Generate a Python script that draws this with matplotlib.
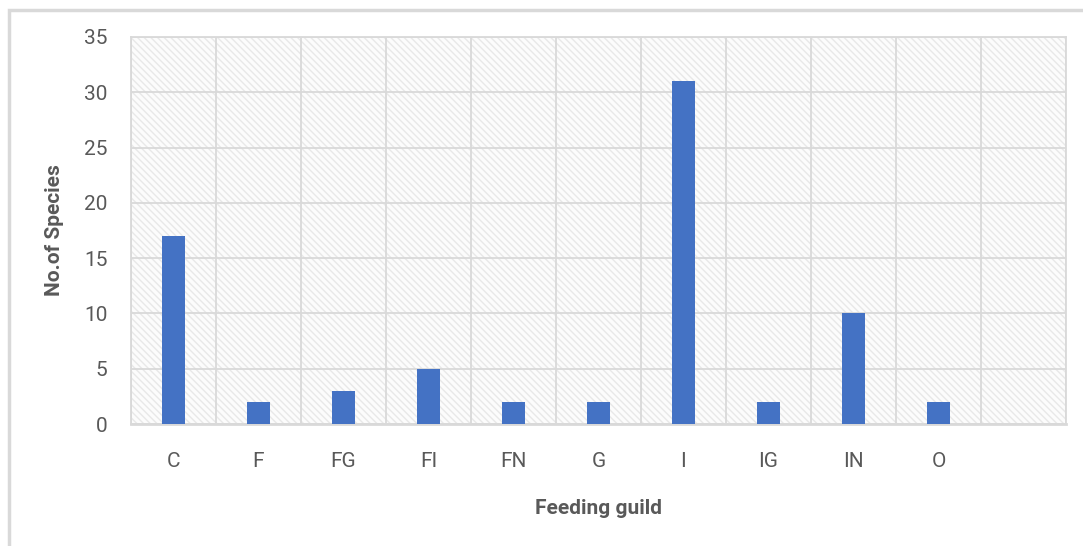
import matplotlib.pyplot as plt
from matplotlib.patches import Rectangle

# =============================
# Data
# =============================
guilds = ["C", "F", "FG", "FI", "FN", "G", "I", "IG", "IN", "O"]
species = [17, 2, 3, 5, 2, 2, 31, 2, 10, 2]
n_slots = 11  # one empty slot on the right, as in the original

y_ticks = [0, 5, 10, 15, 20, 25, 30, 35]

TEXT = "#595959"
GRID = "#d9d9d9"
BAR = "#4472C4"

plt.rcParams['font.family'] = ['Roboto', 'DejaVu Sans']
plt.rcParams['hatch.linewidth'] = 1.0

fig = plt.figure(figsize=(10.83, 5.46), dpi=100)
ax = fig.add_axes([131 / 1083, 122 / 546, 935 / 1083, 387 / 546])

# hatched background of the plot area
bg = Rectangle((0, 0), 1, 1, transform=ax.transAxes, facecolor="#fcfcfc",
               edgecolor="#e8e8e8", hatch="\\\\\\\\\\", linewidth=0, zorder=0)
ax.add_patch(bg)

x = list(range(len(guilds)))
ax.bar(x, species, width=0.27, color=BAR, zorder=3)

ax.set_xlim(-0.5, n_slots - 0.5)
ax.set_ylim(0, 35)

# gridlines at category boundaries and every 5
for b in range(n_slots + 1):
    ax.axvline(b - 0.5, color=GRID, lw=1.3, zorder=1)
for t in y_ticks:
    ax.axhline(t, color=GRID, lw=1.3, zorder=1)

ax.set_xticks(x)
ax.set_xticklabels(guilds)
ax.set_yticks(y_ticks)
ax.tick_params(axis="both", length=0, labelsize=15, labelcolor=TEXT)
ax.tick_params(axis="x", pad=20)
ax.tick_params(axis="y", pad=17)

for s in ax.spines.values():
    s.set_color(GRID)
    s.set_linewidth(1.3)
ax.spines['bottom'].set_linewidth(2)

ax.set_xlabel("Feeding guild", fontsize=15, fontweight="bold", color=TEXT, labelpad=20)
ax.set_ylabel("No.of Species", fontsize=15, fontweight="bold", color=TEXT, labelpad=14)

# outer chart frame (cropped on the right and bottom)
frame = Rectangle((9 / 1083, -0.1), 1.2, 1.1 - 10 / 546, transform=fig.transFigure,
                  fill=False, edgecolor=GRID, linewidth=2.5)
fig.patches.append(frame)

fig.savefig("out.png", dpi=100)
